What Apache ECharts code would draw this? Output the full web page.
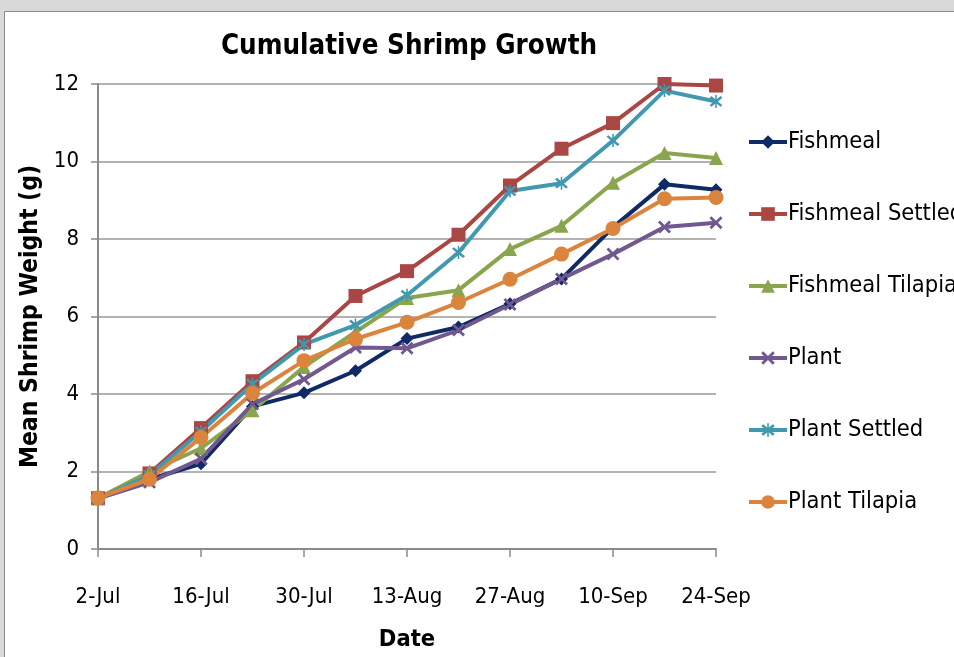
<!DOCTYPE html>
<html>
<head>
<meta charset="utf-8">
<script src="https://cdn.jsdelivr.net/npm/echarts@6/dist/echarts.min.js"></script>
<style>
  html, body { margin: 0; padding: 0; background: #d9d9d9; }
  #chart { width: 954px; height: 657px; }
</style>
</head>
<body>
<div id="chart"></div>
<script>
// Sampling dates (weekly)
const dates = ['2-Jul', '9-Jul', '16-Jul', '23-Jul', '30-Jul', '6-Aug', '13-Aug',
               '20-Aug', '27-Aug', '3-Sep', '10-Sep', '17-Sep', '24-Sep'];

// Mean shrimp weight (g) per treatment
const fishmeal        = [1.31, 1.80, 2.20, 3.68, 4.03, 4.60, 5.43, 5.73, 6.33, 6.97, 8.30, 9.41, 9.27];
const fishmealSettled = [1.31, 1.95, 3.12, 4.33, 5.33, 6.53, 7.17, 8.11, 9.38, 10.33, 10.99, 12.00, 11.96];
const fishmealTilapia = [1.31, 2.00, 2.60, 3.58, 4.70, 5.60, 6.48, 6.68, 7.74, 8.34, 9.45, 10.22, 10.09];
const plant           = [1.30, 1.72, 2.33, 3.74, 4.38, 5.20, 5.18, 5.65, 6.31, 6.97, 7.61, 8.31, 8.42];
const plantSettled    = [1.30, 1.90, 3.03, 4.26, 5.28, 5.78, 6.55, 7.65, 9.24, 9.44, 10.54, 11.83, 11.55];
const plantTilapia    = [1.32, 1.80, 2.88, 4.02, 4.86, 5.42, 5.85, 6.36, 6.96, 7.61, 8.27, 9.04, 9.07];

const seriesNames = ['Fishmeal', 'Fishmeal Settled', 'Fishmeal Tilapia', 'Plant', 'Plant Settled', 'Plant Tilapia'];

const FONT = '"DejaVu Sans Condensed", "Liberation Sans", sans-serif';

// Filled marker outlines: an "x" and a six-armed asterisk
const crossPath = 'path://M0,3 L3,0 L10,7 L17,0 L20,3 L13,10 L20,17 L17,20 L10,13 L3,20 L0,17 L7,10 Z';
const starPath  = 'path://M0,3 L3,0 L10,7 L17,0 L20,3 L13,10 L20,17 L17,20 L10,13 L3,20 L0,17 L7,10 Z ' +
                  'M8.8,-2 L11.2,-2 L11.2,22 L8.8,22 Z';

function line(name, data, color, symbol, size) {
  return {
    name: name,
    type: 'line',
    data: data,
    symbol: symbol,
    symbolSize: size,
    showAllSymbol: true,
    lineStyle: { color: color, width: 4 },
    itemStyle: { color: color, borderWidth: 0 },
    emphasis: { disabled: true },
    animation: false
  };
}

const chart = echarts.init(document.getElementById('chart'), null, { renderer: 'canvas' });
chart.setOption({
  backgroundColor: '#d9d9d9',
  graphic: [{
    type: 'rect',
    z: -10,
    shape: { x: 4.5, y: 11.5, width: 970, height: 670 },
    style: { fill: '#ffffff', stroke: '#8a8a8a', lineWidth: 1 }
  }],
  title: {
    text: 'Cumulative Shrimp Growth',
    left: 404,
    textAlign: 'center',
    top: 28,
    textStyle: { fontFamily: FONT, fontWeight: 'bold', fontSize: 27.5, color: '#000' }
  },
  legend: {
    orient: 'vertical',
    left: 742,
    top: 125,
    itemWidth: 38,
    itemHeight: 17,
    itemGap: 48,
    lineStyle: { width: 4 },
    textStyle: { fontFamily: FONT, fontSize: 23.5, color: '#000', lineHeight: 24, padding: [0, 0, 0, -4] },
    data: seriesNames
  },
  grid: { left: 98, right: 238, top: 84, bottom: 105, containLabel: false },
  xAxis: {
    type: 'category',
    data: dates,
    boundaryGap: false,
    name: 'Date',
    nameLocation: 'middle',
    nameGap: 79,
    nameTextStyle: { fontFamily: FONT, fontWeight: 'bold', fontSize: 23.5, color: '#000' },
    axisLine: { lineStyle: { color: '#8a8a8a', width: 2 } },
    axisTick: { show: true, interval: 1, length: 8, alignWithLabel: true, lineStyle: { color: '#8a8a8a', width: 1.5 } },
    axisLabel: { interval: 1, margin: 37, fontFamily: FONT, fontSize: 22, color: '#000' },
    splitLine: { show: false }
  },
  yAxis: {
    type: 'value',
    min: 0,
    max: 12,
    interval: 2,
    name: 'Mean Shrimp Weight (g)',
    nameLocation: 'middle',
    nameGap: 53,
    nameTextStyle: { fontFamily: FONT, fontWeight: 'bold', fontSize: 24.5, color: '#000' },
    axisLine: { show: true, lineStyle: { color: '#8a8a8a', width: 2 } },
    axisTick: { show: true, length: 7, lineStyle: { color: '#8a8a8a', width: 1.5 } },
    axisLabel: { margin: 19, fontFamily: FONT, fontSize: 22, color: '#000' },
    splitLine: { lineStyle: { color: '#9a9a9a', width: 1.5 } }
  },
  series: [
    line(seriesNames[0], fishmeal, '#0f2a66', 'diamond', 13),
    line(seriesNames[1], fishmealSettled, '#aa4643', 'rect', 14),
    line(seriesNames[2], fishmealTilapia, '#89a54e', 'triangle', 14),
    line(seriesNames[3], plant, '#71588f', crossPath, 13),
    line(seriesNames[4], plantSettled, '#4198af', starPath, 13),
    line(seriesNames[5], plantTilapia, '#db843d', 'circle', 15)
  ]
});
</script>
</body>
</html>
